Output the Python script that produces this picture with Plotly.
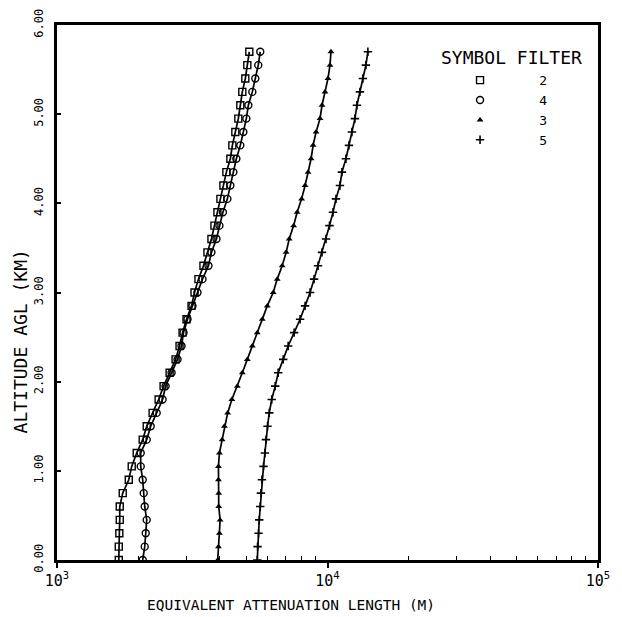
import plotly.graph_objects as go

altitude_km = [0.00, 0.15, 0.30, 0.45, 0.60, 0.75, 0.90, 1.05, 1.20, 1.35,
               1.50, 1.65, 1.80, 1.95, 2.10, 2.25, 2.40, 2.55, 2.70, 2.85,
               3.00, 3.15, 3.30, 3.45, 3.60, 3.75, 3.90, 4.05, 4.20, 4.35,
               4.50, 4.65, 4.80, 4.95, 5.10, 5.25, 5.40, 5.55, 5.70]

filter2_m = [1692, 1692, 1700, 1706, 1706, 1750, 1842, 1889, 1971, 2074,
             2146, 2257, 2375, 2478, 2608, 2744, 2838, 2912, 3012, 3143,
             3224, 3334, 3479, 3599, 3723, 3819, 3918, 4019, 4122, 4228,
             4374, 4449, 4563, 4681, 4761, 4843, 4968, 5053, 5140]

filter4_m = [2074, 2110, 2128, 2146, 2110, 2092, 2074, 2039, 2039, 2146,
             2220, 2336, 2457, 2520, 2652, 2790, 2886, 2936, 3037, 3168,
             3306, 3450, 3630, 3723, 3885, 3985, 4105, 4264, 4374, 4487,
             4603, 4761, 4885, 5011, 5097, 5273, 5408, 5546, 5641]

filter3_m = [3928, 3952, 3985, 4009, 3962, 3962, 3952, 3952, 3985, 4078,
             4158, 4275, 4430, 4642, 4843, 5053, 5273, 5500, 5739, 5988,
             6300, 6517, 6799, 7034, 7216, 7495, 7722, 8022, 8263, 8476,
             8697, 8846, 9073, 9384, 9544, 9790, 10042, 10214, 10301]

filter5_m = [5500, 5514, 5561, 5593, 5641, 5675, 5723, 5801, 5871, 5922,
             6003, 6090, 6220, 6408, 6573, 6858, 7154, 7527, 7920, 8263,
             8622, 8918, 9226, 9544, 9874, 10172, 10478, 10748, 11117, 11308,
             11700, 12004, 12312, 12630, 12847, 13178, 13517, 13865, 14103]

filter_names = ["2", "4", "3", "5"]
x_tickvals = [1e3, 1e4, 1e5]
x_ticktext = ["10<sup>3</sup>", "10<sup>4</sup>", "10<sup>5</sup>"]
x_minor = [2e3, 3e3, 4e3, 5e3, 6e3, 7e3, 8e3, 9e3,
           2e4, 3e4, 4e4, 5e4, 6e4, 7e4, 8e4, 9e4]
y_tickvals = [0, 1, 2, 3, 4, 5, 6]

FONT = "DejaVu Sans Mono"
series = [
    (filter2_m, "square-open", 7, 1.4),
    (filter4_m, "circle-open", 7, 1.4),
    (filter3_m, "triangle-up", 6, 0),
    (filter5_m, "cross-thin-open", 6, 1.6),
]

fig = go.Figure()
# connecting lines (no legend entries)
for name, (vals, sym, sz, lw) in zip(filter_names, series):
    fig.add_trace(go.Scatter(
        x=vals, y=altitude_km, mode="lines", showlegend=False,
        line=dict(color="black", width=1.7), hoverinfo="skip",
    ))
# symbols (legend shows symbol only)
for name, (vals, sym, sz, lw) in zip(filter_names, series):
    fig.add_trace(go.Scatter(
        x=vals, y=altitude_km, mode="markers",
        name="\u00a0\u00a0\u00a0\u00a0\u00a0" + name,
        marker=dict(symbol=sym, size=sz, color="black",
                    line=dict(color="black", width=lw)),
    ))

fig.update_layout(
    width=622, height=617,
    margin=dict(l=57, r=24, t=25, b=57, autoexpand=False),
    paper_bgcolor="white", plot_bgcolor="white",
    font=dict(family=FONT, color="black", size=13),
    showlegend=True,
    legend=dict(x=0.745, y=0.925, xanchor="left", yanchor="top",
                bgcolor="rgba(0,0,0,0)", font=dict(size=13, family=FONT),
                itemwidth=30, tracegroupgap=0),
    annotations=[
        dict(text="SYMBOL FILTER", xref="paper", yref="paper",
             x=0.706, y=0.939, xanchor="left", yanchor="middle",
             showarrow=False, font=dict(size=18, family=FONT)),
        dict(text="EQUIVALENT ATTENUATION LENGTH (M)", xref="paper", yref="paper",
             x=0.4325, y=-0.084, xanchor="center", yanchor="middle",
             showarrow=False, font=dict(size=14.5, family=FONT)),
        dict(text="ALTITUDE AGL (KM)", xref="paper", yref="paper",
             x=-0.068, y=0.409, xanchor="center", yanchor="middle",
             textangle=-90, showarrow=False, font=dict(size=18, family=FONT)),
    ],
)

fig.update_xaxes(
    type="log", range=[3, 5], automargin=False,
    tickmode="array", tickvals=x_tickvals, ticktext=x_ticktext,
    ticks="outside", ticklen=5, tickwidth=1.5, tickcolor="black",
    tickfont=dict(size=15, family=FONT),
    minor=dict(tickmode="array", tickvals=x_minor, ticks="inside",
               ticklen=4, tickwidth=1.2, tickcolor="black", showgrid=False),
    showgrid=False, zeroline=False,
    showline=True, linecolor="black", linewidth=2.5, mirror=True,
)
fig.update_yaxes(
    range=[0, 6], automargin=False,
    tickmode="array", tickvals=y_tickvals, tickformat=".2f",
    tickangle=-90, ticklabelstandoff=6,
    ticks="inside", ticklen=4, tickwidth=1.5, tickcolor="black",
    tickfont=dict(size=12, family=FONT),
    showgrid=False, zeroline=False,
    showline=True, linecolor="black", linewidth=2.5, mirror=True,
)

fig.write_html("out.html", config={"displayModeBar": False},
               post_script="document.body.style.margin='0px';document.body.style.padding='0px';")
